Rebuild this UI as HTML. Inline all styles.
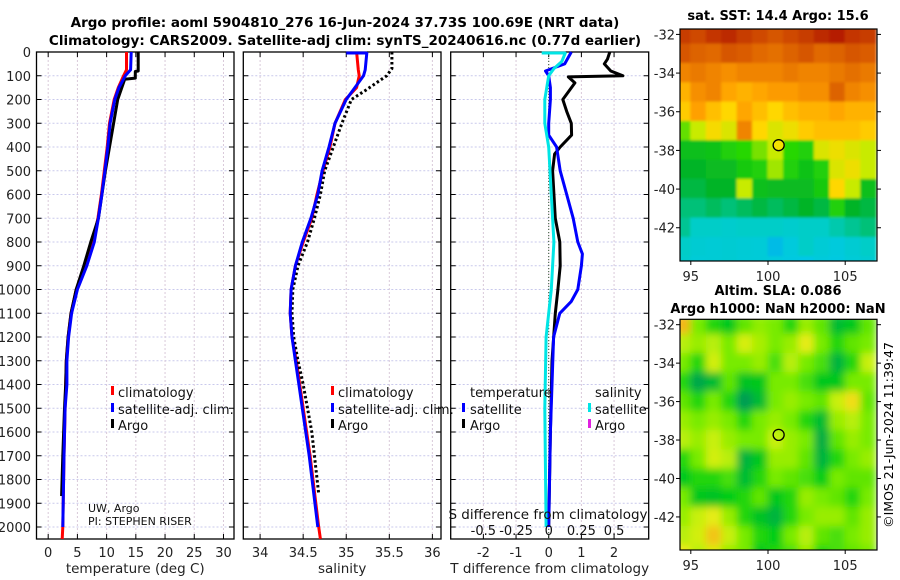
<!DOCTYPE html>
<html><head><meta charset="utf-8"><style>
html,body{margin:0;padding:0;background:#fff}
svg{display:block;font-family:"DejaVu Sans","Liberation Sans",sans-serif}
</style></head><body>
<svg id="fig" width="900" height="580" viewBox="0 0 900 580">
<text x="345" y="27" font-size="13.5" font-weight="bold" text-anchor="middle">Argo profile: aoml 5904810_276 16-Jun-2024 37.73S 100.69E (NRT data)</text>
<text x="345" y="45" font-size="13.5" font-weight="bold" text-anchor="middle">Climatology: CARS2009. Satellite-adj clim: synTS_20240616.nc (0.77d earlier)</text>
<text x="778" y="20" font-size="13" font-weight="bold" text-anchor="middle">sat. SST: 14.4 Argo: 15.6</text>
<text x="778" y="295" font-size="13" font-weight="bold" text-anchor="middle">Altim. SLA: 0.086</text>
<text x="778" y="313" font-size="13" font-weight="bold" text-anchor="middle">Argo h1000: NaN h2000: NaN</text>
<text transform="translate(893,435) rotate(-90)" font-size="12.5" text-anchor="middle">©IMOS 21-Jun-2024 11:39:47</text>
</svg>
<script>
// ---- data ----
var depthClim=[0,75,100,150,200,300,400,500,600,700,800,900,1000,1100,1200,1300,1400,1500,1700,2000,2050];
var tempClim=[13.4,13.4,12.9,12.0,11.3,10.5,10.1,9.6,9.1,8.5,7.7,6.3,4.8,3.9,3.4,3.1,3.0,2.9,2.7,2.5,2.4];
var depthSat=[0,75,100,150,200,300,400,500,600,700,800,900,1000,1100,1200,1300,1400,1500,1700,2000];
var tempSat=[14.2,14.1,13.2,12.1,11.4,10.6,10.2,9.7,9.2,8.6,7.9,6.6,5.0,4.0,3.5,3.2,3.2,2.9,2.7,2.5];
var depthArgo=[0,80,82,110,115,150,200,300,400,500,600,700,800,900,1000,1100,1200,1300,1400,1500,1700,1870];
var tempArgo=[15.4,15.4,14.9,14.9,13.1,12.6,11.9,11.2,10.5,9.8,9.2,8.6,7.3,6.1,4.8,3.9,3.4,3.1,3.0,2.8,2.5,2.3];
var salClim=[35.12,35.14,35.15,35.12,34.99,34.87,34.81,34.73,34.66,34.6,34.5,34.41,34.36,34.35,34.37,34.42,34.46,34.5,34.58,34.68,34.7];
var salSat=[35.24,35.22,35.2,35.1,35.0,34.87,34.8,34.72,34.67,34.59,34.49,34.41,34.36,34.35,34.37,34.41,34.45,34.49,34.57,34.67];
var depthSalArgo=[0,70,100,120,160,200,300,400,500,600,700,800,900,1000,1100,1200,1300,1400,1600,1860];
var salArgo=[35.53,35.53,35.47,35.39,35.23,35.06,34.95,34.85,34.75,34.7,34.63,34.55,34.44,34.38,34.37,34.39,34.44,34.5,34.6,34.68];
var depthDiffT=[0,30,50,80,100,105,130,200,250,300,350,400,430,500,700,800,900,1000,1100,1300,1600,2000];
var diffArgoT=[1.87,1.8,1.7,1.9,2.27,0.6,0.8,0.43,0.55,0.69,0.7,0.35,0.18,0.12,0.2,0.34,0.35,0.28,0.2,0.1,0.05,0.0];
var depthDiffSat=[0,50,80,100,150,200,300,350,400,500,600,700,800,850,900,1000,1050,1100,1200,1400,1600,2000];
var diffSatT=[0.69,0.49,-0.1,0.0,0.05,0.05,0.0,0.0,0.24,0.35,0.55,0.75,0.89,1.03,1.0,0.89,0.69,0.34,0.15,0.1,0.05,0.0];
var depthDiffS=[0,40,70,100,200,300,400,600,800,1000,1200,1500,2000];
var diffSatS=[0.13,0.1,0.04,0.0,-0.03,-0.03,0.0,0.02,0.04,0.02,-0.02,-0.03,-0.02];
var depthTicks=[0,100,200,300,400,500,600,700,800,900,1000,1100,1200,1300,1400,1500,1600,1700,1800,1900,2000];
var tempTicks=[0,5,10,15,20,25,30];
var salTicks=[34,34.5,35,35.5,36];
var diffTTicks=[-2,-1,0,1,2];
var diffSTicks=[-0.5,-0.25,0,0.25,0.5];
var lonTicks=[95,100,105];
var latTicks=[-32,-34,-36,-38,-40,-42];
var sstGrid=[
[0.92,0.9,0.93,0.95,0.92,0.9,0.88,0.9,0.92,0.95,0.97,0.93,0.92],
[0.88,0.86,0.85,0.88,0.87,0.85,0.84,0.86,0.88,0.85,0.86,0.88,0.87],
[0.8,0.82,0.8,0.78,0.8,0.8,0.8,0.82,0.8,0.8,0.82,0.84,0.82],
[0.72,0.78,0.8,0.74,0.72,0.74,0.76,0.76,0.78,0.78,0.86,0.8,0.78],
[0.68,0.75,0.7,0.66,0.74,0.7,0.66,0.7,0.72,0.72,0.74,0.72,0.72],
[0.55,0.6,0.65,0.62,0.8,0.66,0.62,0.64,0.68,0.7,0.7,0.7,0.68],
[0.45,0.45,0.46,0.5,0.52,0.56,0.6,0.52,0.5,0.62,0.64,0.62,0.6],
[0.42,0.42,0.44,0.44,0.48,0.5,0.58,0.5,0.46,0.5,0.62,0.64,0.6],
[0.4,0.4,0.42,0.42,0.6,0.45,0.44,0.44,0.44,0.48,0.66,0.6,0.45],
[0.36,0.36,0.38,0.36,0.38,0.4,0.38,0.4,0.42,0.4,0.5,0.42,0.4],
[0.34,0.3,0.3,0.28,0.3,0.3,0.3,0.28,0.3,0.3,0.32,0.34,0.36],
[0.3,0.26,0.25,0.26,0.25,0.24,0.16,0.22,0.3,0.25,0.22,0.26,0.3],
[0.28,0.24,0.25,0.26,0.24,0.24,0.22,0.2,0.18,0.22,0.2,0.24,0.26]];
var slaGrid=[
[0.88,0.62,0.55,0.5,0.6,0.65,0.62,0.55,0.66,0.6,0.45,0.5,0.6],
[0.7,0.66,0.7,0.62,0.75,0.68,0.62,0.66,0.78,0.62,0.55,0.6,0.62],
[0.62,0.55,0.74,0.62,0.62,0.66,0.58,0.7,0.62,0.58,0.42,0.55,0.72],
[0.55,0.38,0.45,0.6,0.48,0.5,0.62,0.62,0.58,0.5,0.5,0.62,0.62],
[0.6,0.55,0.62,0.55,0.35,0.45,0.62,0.66,0.62,0.6,0.72,0.82,0.6],
[0.66,0.62,0.66,0.62,0.55,0.62,0.66,0.62,0.55,0.45,0.66,0.7,0.62],
[0.7,0.66,0.72,0.66,0.62,0.62,0.72,0.66,0.62,0.4,0.6,0.66,0.62],
[0.55,0.62,0.74,0.7,0.42,0.5,0.66,0.66,0.6,0.42,0.55,0.62,0.66],
[0.5,0.55,0.55,0.58,0.45,0.55,0.62,0.6,0.58,0.52,0.62,0.6,0.6],
[0.62,0.5,0.48,0.52,0.55,0.6,0.5,0.55,0.66,0.62,0.6,0.55,0.62],
[0.66,0.72,0.78,0.66,0.55,0.48,0.42,0.55,0.62,0.66,0.66,0.6,0.66],
[0.7,0.74,0.86,0.72,0.62,0.55,0.52,0.62,0.7,0.6,0.58,0.62,0.66],
[0.8,0.7,0.76,0.66,0.62,0.5,0.55,0.58,0.66,0.55,0.58,0.6,0.62]];
var argoLon=100.69, argoLat=-37.73;

var NS="http://www.w3.org/2000/svg";
var svg=document.getElementById('fig');
function mk(tag,attrs,parent){var e=document.createElementNS(NS,tag);for(var k in attrs)e.setAttribute(k,attrs[k]);(parent||svg).appendChild(e);return e;}
function lin(d0,d1,r0,r1){return function(v){return r0+(v-d0)*(r1-r0)/(d1-d0);};}

var TOP=52,BOT=539;
var y=lin(0,2050.5,TOP,BOT);
var panels=[
 {x0:36.5,x1:234,dom:[-2,31.8],ticks:tempTicks,name:'temperature-panel',label:'temperature (deg C)'},
 {x0:243.3,x1:441,dom:[33.805,36.1],ticks:salTicks,name:'salinity-panel',label:'salinity'},
 {x0:450.7,x1:648.7,dom:[-3,3.06],ticks:diffTTicks,name:'difference-panel',label:'T difference from climatology'}];

function axisFrame(p,showY){
  var g=mk('g',{});
  
  
  var x=lin(p.dom[0],p.dom[1],p.x0,p.x1);p.x=x;
  depthTicks.forEach(function(d){
    var l=mk('line',{x1:p.x0,x2:p.x1,y1:y(d),y2:y(d),stroke:'#c9c9ec','stroke-width':1,'stroke-dasharray':'2,2'},g);
    
    mk('line',{x1:p.x0,x2:p.x0+5,y1:y(d),y2:y(d),stroke:'#000'},g);
    mk('line',{x1:p.x1-5,x2:p.x1,y1:y(d),y2:y(d),stroke:'#000'},g);
    if(showY){var t=mk('text',{x:31,y:y(d)+5,'font-size':13,'text-anchor':'end',fill:'#222'},g);t.textContent=d;
      }
  });
  p.ticks.forEach(function(v){
    var l=mk('line',{x1:x(v),x2:x(v),y1:TOP,y2:BOT,stroke:'#d9c9d9','stroke-width':1,'stroke-dasharray':'2,2'},g);
    
    mk('line',{x1:x(v),x2:x(v),y1:BOT,y2:BOT-5,stroke:'#000'},g);
    mk('line',{x1:x(v),x2:x(v),y1:TOP,y2:TOP+5,stroke:'#000'},g);
    var t=mk('text',{x:x(v),y:557,'font-size':13,'text-anchor':'middle',fill:'#222'},g);t.textContent=v;
    
  });
  mk('rect',{x:p.x0,y:TOP,width:p.x1-p.x0,height:BOT-TOP,fill:'none',stroke:'#000','stroke-width':1.3},g);
  var lb=mk('text',{x:(p.x0+p.x1)/2,y:573,'font-size':13.5,'text-anchor':'middle',fill:'#222'},g);lb.textContent=p.label;
  
  return g;
}
function line(xs,ds,xf,color,name,dash){
  var pts=xs.map(function(v,i){return xf(v).toFixed(1)+','+y(ds[i]).toFixed(1);}).join(' ');
  var a={points:pts,fill:'none',stroke:color,'stroke-width':3,'stroke-linejoin':'round'};
  if(dash)a['stroke-dasharray']=dash;
  var e=mk('polyline',a);
  
  
  return e;
}
function txt(x,yy,s,size,name,anchor){var t=mk('text',{x:x,y:yy,'font-size':size,'text-anchor':anchor||'start',fill:'#111'});t.textContent=s;
  return t;}
function mark(x,yy,c,name){var r=mk('rect',{x:x,y:yy-11,width:3,height:9,fill:c});
  }

axisFrame(panels[0],true);axisFrame(panels[1],false);axisFrame(panels[2],false);
var p1=panels[0].x,p2=panels[1].x,p3=panels[2].x;
line(tempClim,depthClim,p1,'#ff0000','temperature-climatology-line');
line(tempArgo,depthArgo,p1,'#000000','temperature-argo-line');
line(tempSat,depthSat,p1,'#0000ff','temperature-satellite-line');
line(salClim,depthClim,p2,'#ff0000','salinity-climatology-line');
line(salArgo,depthSalArgo,p2,'#000000','salinity-argo-line','2.5,2.5');
line(salSat,depthSat,p2,'#0000ff','salinity-satellite-line');
var seg=mk('line',{x1:p2(35.0),x2:p2(35.24),y1:TOP+1,y2:TOP+1,stroke:'#0000ff','stroke-width':3});

var zl=mk('line',{x1:p3(0),x2:p3(0),y1:TOP,y2:BOT,stroke:'#335533','stroke-width':1,'stroke-dasharray':'1,2'});

var ps=function(v){return p3(v*4);};
line(diffArgoT,depthDiffT,p3,'#000000','t-diff-argo-line');
line(diffSatT,depthDiffSat,p3,'#0000ff','t-diff-satellite-line');
line(diffSatS,depthDiffS,ps,'#00e5e5','s-diff-satellite-line');
var cseg=mk('line',{x1:541.7,x2:ps(diffSatS[0]),y1:TOP+1,y2:TOP+1,stroke:'#00e5e5','stroke-width':3});

txt(548,519,'S difference from climatology',13.5,'s-axis-title','middle');
diffSTicks.forEach(function(v){txt(ps(v),535,String(v),13,'s-tick-label','middle');});
mark(111,397,'#ff0000','legend-marker-climatology');txt(118,397,'climatology',13,'legend-climatology');
mark(111,414,'#0000ff','legend-marker-satellite');txt(118,414,'satellite-adj. clim.',13,'legend-satellite-adj');
mark(111,430,'#000','legend-marker-argo');txt(118,430,'Argo',13,'legend-argo');
txt(88,512,'UW, Argo',11,'credit-line-1');txt(88,525,'PI: STEPHEN RISER',11,'credit-line-2');
mark(331,397,'#ff0000','legend-marker-climatology');txt(338,397,'climatology',13,'legend-climatology');
mark(331,414,'#0000ff','legend-marker-satellite');txt(338,414,'satellite-adj. clim.',13,'legend-satellite-adj');
mark(331,430,'#000','legend-marker-argo');txt(338,430,'Argo',13,'legend-argo');
txt(470,397,'temperature',13,'legend-temperature-header');
mark(462,414,'#0000ff','legend-marker-t-satellite');txt(470,414,'satellite',13,'legend-t-satellite');
mark(462,430,'#000','legend-marker-t-argo');txt(470,430,'Argo',13,'legend-t-argo');
txt(595,397,'salinity',13,'legend-salinity-header');
mark(588,414,'#00e5e5','legend-marker-s-satellite');txt(595,414,'satellite',13,'legend-s-satellite');
mark(588,430,'#e020e0','legend-marker-s-argo');txt(595,430,'Argo',13,'legend-s-argo');

function ramp(stops,v){
  if(v<=stops[0][0])return 'rgb('+stops[0][1].join(',')+')';
  for(var i=1;i<stops.length;i++){if(v<=stops[i][0]){var a=stops[i-1],b=stops[i],t=(v-a[0])/(b[0]-a[0]);
    return 'rgb('+a[1].map(function(c,k){return Math.round(c+(b[1][k]-c)*t);}).join(',')+')';}}
  return 'rgb('+stops[stops.length-1][1].join(',')+')';
}
var jetStops=[[0,[0,80,230]],[0.18,[0,200,230]],[0.3,[0,205,200]],[0.42,[0,180,40]],[0.52,[40,215,0]],[0.6,[200,235,0]],[0.66,[255,215,0]],[0.75,[255,160,0]],[0.85,[225,105,0]],[1,[170,10,0]]];
var slaStops=[[0.3,[0,140,100]],[0.42,[0,180,60]],[0.52,[0,205,20]],[0.62,[120,235,0]],[0.72,[200,240,10]],[0.8,[240,235,20]],[0.9,[245,170,20]]];
function jet(v){return ramp(jetStops,v);}
function sla(v){return ramp(slaStops,v);}
function mapPanel(top,bot,grid,cmap,name,fillDot,blur){
  var X0=680,X1=877;
  var lx=lin(94.3,107.06,X0,X1), ly=lin(-31.72,-43.72,top,bot);
  var g=mk('g',{});
  
  var clip='c'+name;var cp=mk('clipPath',{id:clip},g);mk('rect',{x:X0,y:top,width:X1-X0,height:bot-top},cp);
  var outer=mk('g',{'clip-path':'url(#'+clip+')'},g);
  var cells=mk('g',{},outer);
  if(blur){var f=mk('filter',{id:'b'+name,x:'-10%',y:'-10%',width:'120%',height:'120%'},g);mk('feGaussianBlur',{stdDeviation:blur,edgeMode:'duplicate'},f);cells.setAttribute('filter','url(#b'+name+')');}
  grid.forEach(function(row,r){row.forEach(function(v,c){
    var lon0=94.0+c, lat0=-31.5-r;
    var e=mk('rect',{x:lx(lon0)-0.5,y:ly(lat0)-0.5,width:lx(lon0+1)-lx(lon0)+1,height:ly(lat0-1)-ly(lat0)+1,fill:cmap(v)},cells);
    
  });});
  mk('rect',{x:X0,y:top,width:X1-X0,height:bot-top,fill:'none',stroke:'#000','stroke-width':1.2},g);
  lonTicks.forEach(function(v){mk('line',{x1:lx(v),x2:lx(v),y1:bot,y2:bot+4,stroke:'#000'},g);
    var t=mk('text',{x:lx(v),y:bot+20,'font-size':13,'text-anchor':'middle',fill:'#222'},g);t.textContent=v;
    });
  latTicks.forEach(function(v){mk('line',{x1:X0-4,x2:X0,y1:ly(v),y2:ly(v),stroke:'#000'},g);
    mk('line',{x1:X1,x2:X1+4,y1:ly(v),y2:ly(v),stroke:'#000'},g);
    var t=mk('text',{x:675,y:ly(v)+5,'font-size':13,'text-anchor':'end',fill:'#222'},g);t.textContent=v;
    });
  var c=mk('circle',{cx:lx(argoLon),cy:ly(argoLat),r:5.5,fill:fillDot,stroke:'#000','stroke-width':1.3},g);
  
}
mapPanel(29,261,sstGrid,jet,'sst-map','#f5e000',1.2);
mapPanel(319.3,550,slaGrid,sla,'sla-map','none',4);
</script>
</body></html>
